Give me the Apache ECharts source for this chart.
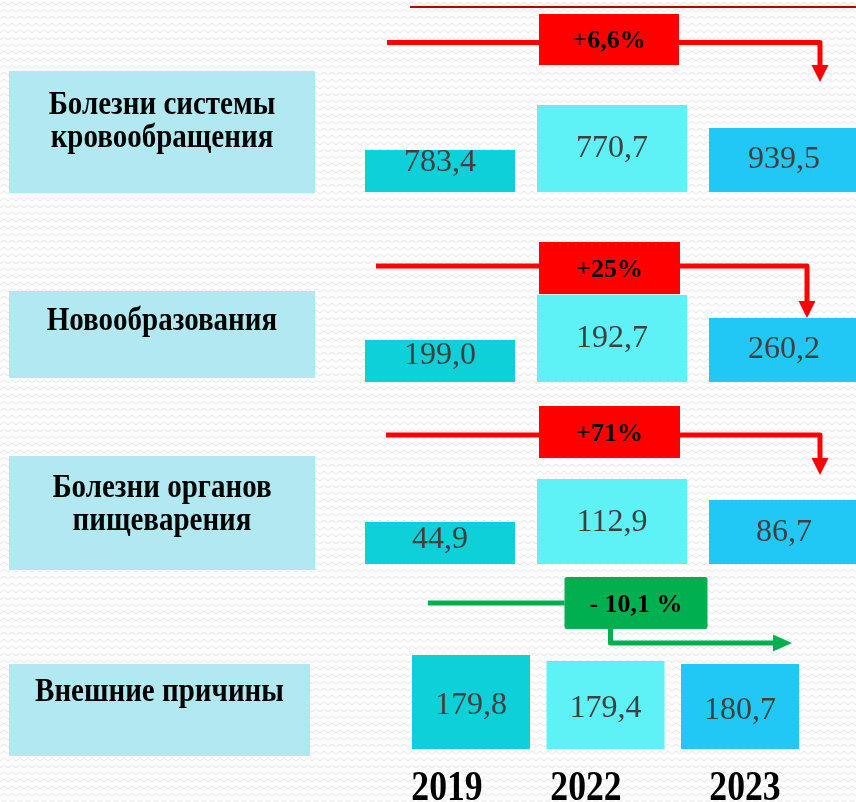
<!DOCTYPE html>
<html>
<head>
<meta charset="utf-8">
<script src="https://cdn.jsdelivr.net/npm/echarts@6/dist/echarts.min.js"></script>
<style>
html,body{margin:0;padding:0;background:#fff;}
#c{width:856px;height:802px;}
</style>
</head>
<body>
<div id="c"></div>
<script>
// ---------------- DATA ----------------
const years = ['2019', '2022', '2023'];
const causes = ['Болезни системы\nкровообращения', 'Новообразования', 'Болезни органов\nпищеварения', 'Внешние причины'];
const values2019 = [783.4, 199.0, 44.9, 179.8];
const values2022 = [770.7, 192.7, 112.9, 179.4];
const values2023 = [939.5, 260.2, 86.7, 180.7];
const changeLabels = ['+6,6%', '+25%', '+71%', '- 10,1 %'];
const changeTrend = ['up', 'up', 'up', 'down'];

// ---------------- STYLE / LAYOUT ----------------
const SERIF = "'Liberation Serif', 'Times New Roman', serif";
const yearColors = ['#0ED0D9', '#5EF2F6', '#22C8F5'];
const labelBoxColor = '#B2E9F1';
const upColor = '#FF0000';
const downColor = '#00B050';
const valueTextColor = '#404040';
const LABEL_LH = 28;

// per-row geometry (relative to row anchor = box bottom, and column centers)
const rowGeom = [
  { dy: 0,   kx: 1,     dx: 0,    w: 150, h: [42, 87, 64], textTop: [13, null, null], textShift: 0,
    lab: { top: -121, bottom: 1, x0: -431, x1: -125, firstLine: 34 },
    arr: { lineY: -149.5, x0: -53, x1: 36, tipY: -110, boxDx: -3, boxW: 140, boxTop: -178, boxH: 51 } },
  { dy: 4.3, kx: 1,     dx: 0,    w: 150, h: [42, 87, 64], textTop: [16, null, null], textShift: 0,
    lab: { top: -91, bottom: -4, x0: -431, x1: -125, firstLine: 30 },
    arr: { lineY: -116, x0: -64, x1: 23, tipY: -64, boxDx: -2.5, boxW: 141, boxTop: -140, boxH: 52 } },
  { dy: 0.7, kx: 1,     dx: 0,    w: 150, h: [42, 85, 64], textTop: [18, null, null], textShift: 1,
    lab: { top: -108, bottom: 6, x0: -431, x1: -125, firstLine: 32 },
    arr: { lineY: -129, x0: -54, x1: 36, tipY: -89, boxDx: -2.5, boxW: 141, boxTop: -158, boxH: 52 } },
  { dy: 0,   kx: 0.782, dx: -6.5, w: 118, h: [94, 88, 85], textTop: [null, null, null], textShift: 4,
    lab: { top: -85, bottom: 7, x0: -431, x1: -130, firstLine: 28 },
    arr: { lineY: -146, x0: -43, boxDx: 30.5, boxW: 143, boxTop: -172, boxH: 52, elbowDx: 5, elbowY: -106, tipDx: 52 } }
];
const yearDx = [7, -26, -39];
const yearY = 789;

function fmt(v) { return v.toFixed(1).replace('.', ','); }

// background zigzag pattern
const tile = document.createElement('canvas');
tile.width = 8; tile.height = 7;
const tg = tile.getContext('2d');
tg.fillStyle = '#ffffff'; tg.fillRect(0, 0, 8, 7);
tg.strokeStyle = '#e6e6e6'; tg.lineWidth = 1;
tg.beginPath(); tg.moveTo(0, 5); tg.lineTo(4, 2); tg.lineTo(8, 5); tg.stroke();

const seriesValues = [values2019, values2022, values2023];
const valueData = [];
years.forEach((y, yi) => causes.forEach((c, ri) => valueData.push([yi, ri, seriesValues[yi][ri]])));
const causeData = causes.map((c, ri) => [0, ri]);
const changeData = changeLabels.map((c, ri) => [1, ri]);
const yearData = years.map((y, yi) => [yi, 3]);

function colX(api, yi, ri) {
  const g = rowGeom[ri];
  const p = api.coord([yi, ri]);
  const mid = api.coord([1, ri]);
  return mid[0] + (p[0] - mid[0]) * g.kx + g.dx;
}
function rowBottom(api, ri) {
  return api.coord([0, ri])[1] + rowGeom[ri].dy;
}

const chart = echarts.init(document.getElementById('c'));
chart.setOption({
  animation: false,
  backgroundColor: { image: tile, repeat: 'repeat' },
  grid: { left: 440, top: 192, width: 344, height: 557, outerBoundsMode: 'none', containLabel: false },
  xAxis: { type: 'category', data: years, show: false, boundaryGap: false },
  yAxis: { type: 'category', data: causes, inverse: true, show: false, boundaryGap: false },
  graphic: [
    { type: 'line', shape: { x1: 410, y1: 7, x2: 856, y2: 7 }, style: { stroke: '#C00000', lineWidth: 2 } }
  ],
  series: [
    {
      type: 'custom', name: 'causes', clip: false, data: causeData,
      renderItem: function (params, api) {
        const ri = api.value(1);
        const g = rowGeom[ri];
        const b = rowBottom(api, ri);
        const c0 = api.coord([0, ri])[0];
        const x0 = c0 + g.lab.x0, x1 = c0 + g.lab.x1;
        const top = b + g.lab.top;
        const ty = top + g.lab.firstLine - LABEL_LH / 2;
        const tx = (x0 + x1) / 2;
        return {
          type: 'group',
          children: [
            { type: 'rect', shape: { x: x0, y: top, width: x1 - x0, height: g.lab.bottom - g.lab.top },
              style: { fill: labelBoxColor } },
            { type: 'text', x: tx, y: ty, scaleY: 1.18, originX: 0, originY: LABEL_LH / 2,
              style: { text: causes[ri], fill: '#000', font: 'bold 29px ' + SERIF,
                align: 'center', verticalAlign: 'top', lineHeight: LABEL_LH } }
          ]
        };
      }
    },
    {
      type: 'custom', name: 'change', clip: false, data: changeData,
      renderItem: function (params, api) {
        const ri = api.value(1);
        const g = rowGeom[ri];
        const a = g.arr;
        const b = rowBottom(api, ri);
        const c0 = colX(api, 0, ri), c1 = colX(api, 1, ri), c2 = colX(api, 2, ri);
        const up = changeTrend[ri] === 'up';
        const color = up ? upColor : downColor;
        const ly = b + a.lineY;
        const bx = c1 + a.boxDx - a.boxW / 2;
        const by = b + a.boxTop;
        const children = [];
        if (up) {
          const tipY = b + a.tipY;
          const ex = c2 + a.x1;
          children.push({ type: 'polyline', shape: { points: [[c0 + a.x0, ly], [ex, ly], [ex, tipY - 16]] },
            style: { stroke: color, lineWidth: 5, fill: null, lineJoin: 'round' } });
          children.push({ type: 'polygon', shape: { points: [[ex - 8.5, tipY - 17], [ex + 8.5, tipY - 17], [ex, tipY]] },
            style: { fill: color } });
        } else {
          const ex = c1 + a.elbowDx;
          const ey = b + a.elbowY;
          const tx = c2 + a.tipDx;
          children.push({ type: 'line', shape: { x1: c0 + a.x0, y1: ly, x2: bx, y2: ly },
            style: { stroke: color, lineWidth: 5 } });
          children.push({ type: 'polyline', shape: { points: [[ex, by + a.boxH - 2], [ex, ey], [tx - 18, ey]] },
            style: { stroke: color, lineWidth: 5, fill: null, lineJoin: 'round' } });
          children.push({ type: 'polygon', shape: { points: [[tx - 19, ey - 8.5], [tx - 19, ey + 8.5], [tx, ey]] },
            style: { fill: color } });
        }
        children.push({ type: 'rect', shape: { x: bx, y: by, width: a.boxW, height: a.boxH, r: up ? 0 : 2 },
          style: { fill: color } });
        children.push({ type: 'text', x: bx + a.boxW / 2, y: by + a.boxH / 2 + 2,
          style: { text: changeLabels[ri], fill: '#000', font: 'bold 26px ' + SERIF,
            align: 'center', verticalAlign: 'middle' } });
        return { type: 'group', children: children };
      }
    },
    {
      type: 'custom', name: 'values', clip: false, data: valueData,
      renderItem: function (params, api) {
        const yi = api.value(0), ri = api.value(1), v = api.value(2);
        const g = rowGeom[ri];
        const cx = colX(api, yi, ri);
        const b = rowBottom(api, ri);
        const h = g.h[yi];
        const top = b - h;
        const ty = g.textTop[yi] != null ? top + g.textTop[yi] : top + h / 2 + g.textShift;
        return {
          type: 'group',
          children: [
            { type: 'rect', shape: { x: cx - g.w / 2, y: top, width: g.w, height: h },
              style: { fill: yearColors[yi] } },
            { type: 'text', x: cx, y: ty,
              style: { text: fmt(v), fill: valueTextColor, font: '32px ' + SERIF,
                align: 'center', verticalAlign: 'middle' } }
          ]
        };
      }
    },
    {
      type: 'custom', name: 'years', clip: false, data: yearData,
      renderItem: function (params, api) {
        const yi = api.value(0);
        const x = api.coord([yi, 0])[0] + yearDx[yi];
        return { type: 'text', x: x, y: yearY, scaleX: 0.85, originX: 0, originY: 0,
          style: { text: years[yi], fill: '#000', font: 'bold 42px ' + SERIF,
            align: 'center', verticalAlign: 'middle' } };
      }
    }
  ]
});
</script>
</body>
</html>
